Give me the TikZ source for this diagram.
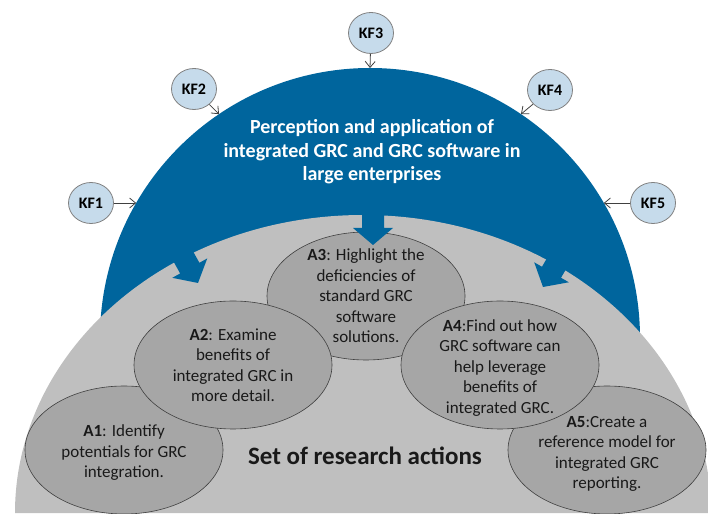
\documentclass[tikz,border=0pt]{standalone}
\usepackage{fontspec}
\setmainfont{Carlito}
\usepackage{xcolor}
\usepackage{tikz}
\usetikzlibrary{shapes.geometric, arrows.meta}

\definecolor{domeblue}{RGB}{0,101,157}
\definecolor{basegray}{RGB}{191,191,191}
\definecolor{ovalgray}{RGB}{166,166,166}
\definecolor{kfblue}{RGB}{198,219,235}

\tikzset{
  kf/.style={ellipse, draw=black!50, fill=kfblue, line width=0.8pt,
    minimum width=45pt, minimum height=41pt, inner sep=0pt,
    font=\fontsize{16}{18}\selectfont\bfseries},
  kfarrow/.style={draw=black!75, line width=0.8pt,
    -{Straight Barb[length=6pt,width=10pt]}},
  oval/.style={ellipse, draw=black!75, fill=ovalgray, line width=0.6pt,
    minimum width=198pt, minimum height=128pt, inner sep=0pt},
  ovaltext/.style={align=center, text=black!90, inner sep=0pt,
    font=\fontsize{17}{20.5}\selectfont}
}

\begin{document}
\begin{tikzpicture}[x=1pt, y=1pt]
  \useasboundingbox (0,0) rectangle (708,513);
  \coordinate (c) at (370,175);
  \coordinate (g) at (363,0);

  \fill[domeblue] (c) ++(-270,0) arc[start angle=180, end angle=0, radius=270] -- cycle;
  \fill[basegray] (g) ++(-348,0) arc[start angle=180, end angle=0, x radius=348, y radius=298] -- cycle;

  \node[oval] (o1) at (124,63) {};
  \node[oval] (o3) at (366,217) {};
  \node[oval] (o5) at (607,63) {};
  \node[oval] (o2) at (233,148) {};
  \node[oval] (o4) at (500,148) {};

  \node[ovaltext] (a1) at ([yshift=-3pt]o1) {\textbf{A1}: Identify\\potentials for GRC\\integration.};
  \node[ovaltext] (a2) at (o2) {\textbf{A2}: Examine\\benefits of\\integrated GRC in\\more detail.};
  \node[ovaltext] (a3) at (o3) {\textbf{A3}: Highlight the\\deficiencies of\\standard GRC\\software\\solutions.};
  \node[ovaltext] (a4) at ([yshift=-3pt]o4) {\textbf{A4}:Find out how\\GRC software can\\help leverage\\benefits of\\integrated GRC.};
  \node[ovaltext] (a5) at ([yshift=-4pt]o5) {\textbf{A5}:Create a\\reference model for\\integrated GRC\\reporting.};

  \foreach \x/\y/\a in {198/230/-61, 373/268/-90, 543/226/-120}{
    \fill[domeblue, shift={(\x,\y)}, rotate=\a]
      (0,0) -- (-17,20) -- (-17,11) -- (-60,11) -- (-60,-11) -- (-17,-11) -- (-17,-20) -- cycle;
  }

  \node[align=center, text=white, font=\fontsize{20}{23.5}\selectfont\bfseries] (title)
    at (372,361) {Perception and application of\\integrated GRC and GRC software in\\large enterprises};
  \node[text=black!90, font=\fontsize{25}{30}\selectfont\bfseries] (set)
    at (365,57) {Set of research actions};

  \foreach \i/\x/\y/\a in {1/91/310/150, 2/194/424/124, 3/371/480/90, 4/550/423/56, 5/653/310/30}{
    \node[kf] (kf\i) at (\x,\y) {KF\i};
    \path (c) ++(\a:270) coordinate (t\i);
    \draw[kfarrow] (kf\i) -- (t\i);
  }
\end{tikzpicture}
\end{document}
